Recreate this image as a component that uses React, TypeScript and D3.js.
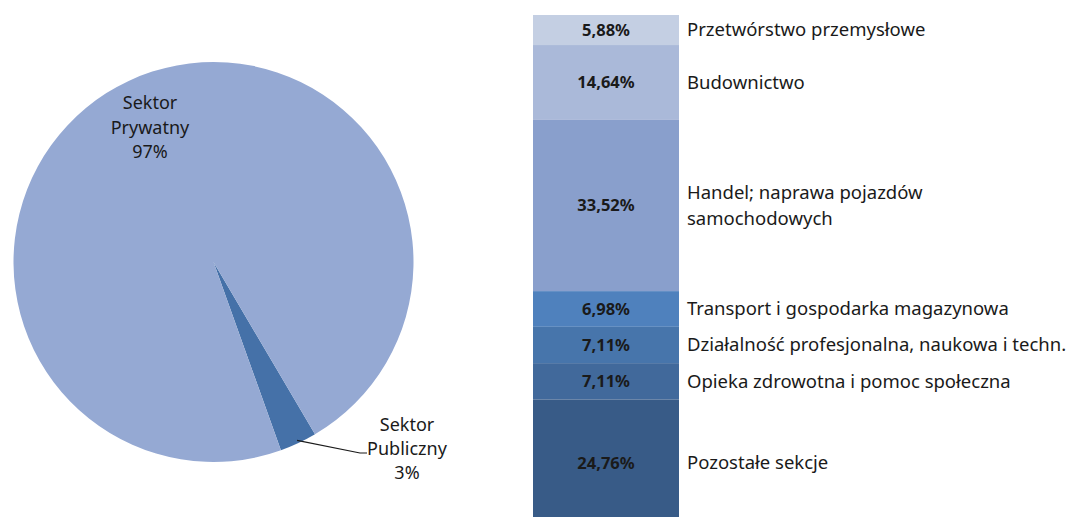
import React from "react";
import * as d3 from "d3";

const sectorNames = ["Sektor Publiczny", "Sektor Prywatny"];
const sectorLines = [["Sektor", "Publiczny", "3%"], ["Sektor", "Prywatny", "97%"]];
const sectorValues = [3, 97];
const sectorColors = ["#4571a8", "#95a9d3"];

const categories = [
  "Przetwórstwo przemysłowe",
  "Budownictwo",
  "Handel; naprawa pojazdów samochodowych",
  "Transport i gospodarka magazynowa",
  "Działalność profesjonalna, naukowa i techn.",
  "Opieka zdrowotna i pomoc społeczna",
  "Pozostałe sekcje",
];
const categoryLines = [
  ["Przetwórstwo przemysłowe"],
  ["Budownictwo"],
  ["Handel; naprawa pojazdów", "samochodowych"],
  ["Transport i gospodarka magazynowa"],
  ["Działalność profesjonalna, naukowa i techn."],
  ["Opieka zdrowotna i pomoc społeczna"],
  ["Pozostałe sekcje"],
];
const shares = [5.88, 14.64, 33.52, 6.98, 7.11, 7.11, 24.76];
const shareLabels = ["5,88%", "14,64%", "33,52%", "6,98%", "7,11%", "7,11%", "24,76%"];
const barColors = ["#c4cfe3", "#aab9d9", "#899fcc", "#4f81bd", "#4775ab", "#41699b", "#385b87"];

const FONT = "'Noto Sans', sans-serif";
const W = 1085;
const H = 517;

export default function App() {
  const cx = 213.5;
  const cy = 262;
  const r = 200;
  const pie = d3
    .pie<number>()
    .sort(null)
    .startAngle((149.5 * Math.PI) / 180)
    .endAngle((149.5 * Math.PI) / 180 + 2 * Math.PI);
  const arcs = pie(sectorValues);
  const arcGen = d3.arc<d3.PieArcDatum<number>>().innerRadius(0).outerRadius(r);

  const pubArc = arcs[0];
  const midA = (pubArc.startAngle + pubArc.endAngle) / 2;
  const p0: [number, number] = [cx + Math.sin(midA) * (r - 3), cy - Math.cos(midA) * (r - 3)];

  const y = d3.scaleLinear().domain([0, 100]).range([15, 526]);
  const x0 = 533;
  const x1 = 679;
  let cum = 0;
  const segs = shares.map((v, i) => {
    const s = { start: cum, end: cum + v, i };
    cum += v;
    return s;
  });

  return (
    <div style={{ position: "absolute", left: 0, top: 0 }}>
      <svg width={W} height={H} style={{ display: "block", background: "#fff" }}>
        <g transform={`translate(${cx},${cy})`}>
          {arcs.map((a, i) => (
            <path key={sectorNames[i]} d={arcGen(a) || ""} fill={sectorColors[i]} />
          ))}
        </g>
        <g fontFamily={FONT} fontSize={18} fill="#1a1a1a" textAnchor="middle">
          {sectorLines[1].map((t, k) => (
            <text key={k} x={150} y={103 + k * 24.5} dy="0.35em">
              {t}
            </text>
          ))}
          {sectorLines[0].map((t, k) => (
            <text key={k} x={407} y={425 + k * 24} dy="0.35em">
              {t}
            </text>
          ))}
        </g>
        <path
          d={`M${p0[0]},${p0[1]} L${360},${453} L${367},${453}`}
          fill="none"
          stroke="#1a1a1a"
          strokeWidth={1.2}
        />
        {segs.map((s) => (
          <rect
            key={categories[s.i]}
            x={x0}
            y={y(s.start)}
            width={x1 - x0}
            height={y(s.end) - y(s.start)}
            fill={barColors[s.i]}
          />
        ))}
        {segs.map((s) => (
          <text
            key={"v" + s.i}
            x={(x0 + x1) / 2}
            y={(y(s.start) + y(s.end)) / 2}
            dy="0.35em"
            textAnchor="middle"
            fontFamily={FONT}
            fontWeight="bold"
            fontSize={16.5}
            fill="#1a1a1a"
          >
            {shareLabels[s.i]}
          </text>
        ))}
        {segs.map((s) => {
          const lines = categoryLines[s.i];
          const mid = (y(s.start) + y(Math.min(s.end, 100))) / 2;
          const lh = 26;
          return (
            <g key={"c" + s.i} fontFamily={FONT} fontSize={18.5} fill="#1a1a1a">
              {lines.map((t, k) => (
                <text key={k} x={687} y={mid + (k - (lines.length - 1) / 2) * lh} dy="0.35em">
                  {t}
                </text>
              ))}
            </g>
          );
        })}
      </svg>
    </div>
  );
}
